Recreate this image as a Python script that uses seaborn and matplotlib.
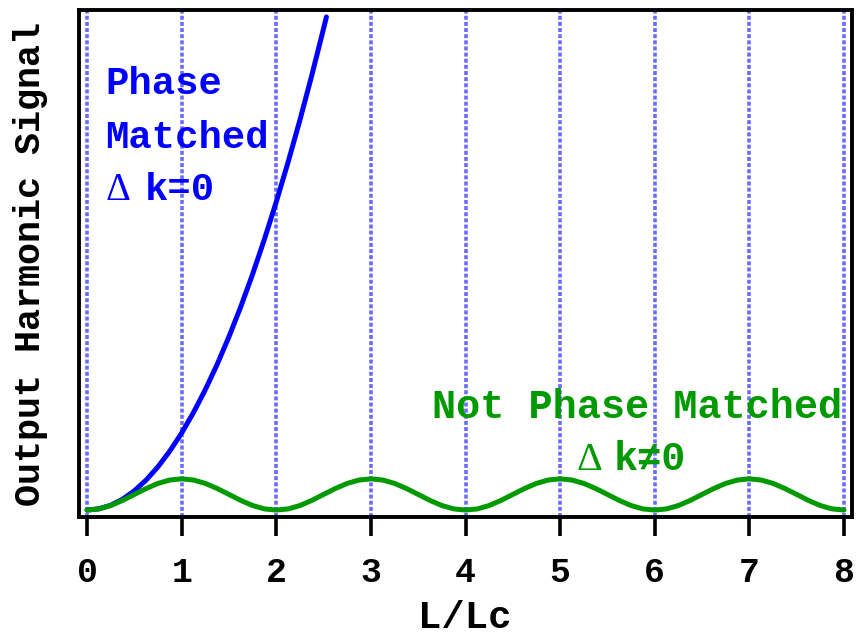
import numpy as np
import pandas as pd
import matplotlib
matplotlib.use("Agg")
import matplotlib.pyplot as plt
import seaborn as sns

# Normalised crystal length L/Lc and the harmonic output for both cases
length_ticks = [0, 1, 2, 3, 4, 5, 6, 7, 8]

matched_x = [0, 0.125, 0.25, 0.375, 0.5, 0.625, 0.75, 0.875, 1.0,
             1.125, 1.25, 1.375, 1.5, 1.625, 1.75, 1.875, 2.0,
             2.125, 2.25, 2.375, 2.5, 2.53]
matched_y = [0, 0.016, 0.0625, 0.14, 0.25, 0.39, 0.5625, 0.766, 1.0,
             1.266, 1.5625, 1.89, 2.25, 2.64, 3.0625, 3.516, 4.0,
             4.516, 5.0625, 5.64, 6.25, 6.40]

mismatched_x = list(np.linspace(0, 8, 65))
mismatched_y = [
    0, 0.015, 0.059, 0.125, 0.203, 0.280, 0.346, 0.390,
    0.405, 0.390, 0.346, 0.280, 0.203, 0.125, 0.059, 0.015,
    0, 0.015, 0.059, 0.125, 0.203, 0.280, 0.346, 0.390,
    0.405, 0.390, 0.346, 0.280, 0.203, 0.125, 0.059, 0.015,
    0, 0.015, 0.059, 0.125, 0.203, 0.280, 0.346, 0.390,
    0.405, 0.390, 0.346, 0.280, 0.203, 0.125, 0.059, 0.015,
    0, 0.015, 0.059, 0.125, 0.203, 0.280, 0.346, 0.390,
    0.405, 0.390, 0.346, 0.280, 0.203, 0.125, 0.059, 0.015,
    0,
]

BLUE = "#0000ff"
GREEN = "#009900"
GRID = "#6b6bff"
MONO = "Liberation Mono"

sns.set_theme(style="white")
plt.rcParams["font.family"] = [MONO, "DejaVu Sans"]

fig = plt.figure(figsize=(8.63, 6.42), dpi=100)
ax = fig.add_axes([0.091, 0.1947, 0.8957, 0.7897])

# vertical dotted guides at every integer length
for t in length_ticks:
    ax.axvline(t, color=GRID, lw=2.6, ls=(0, (1.1, 0.6)), zorder=1)

matched = pd.DataFrame({"L": matched_x, "signal": matched_y})
mismatched = pd.DataFrame({"L": mismatched_x, "signal": mismatched_y})
sns.lineplot(data=matched, x="L", y="signal", ax=ax, color=BLUE, lw=3.6,
             sort=False, zorder=3)
sns.lineplot(data=mismatched, x="L", y="signal", ax=ax, color=GREEN, lw=3.6,
             sort=False, zorder=4)

ax.set_xlim(-0.09, 8.08)
ax.set_ylim(-0.09, 6.49)
ax.set_xticks(length_ticks)
ax.set_xticklabels([str(t) for t in length_ticks])
ax.set_yticks([])

for side in ["left", "right", "top", "bottom"]:
    ax.spines[side].set_visible(True)
    ax.spines[side].set_color("black")
    ax.spines[side].set_linewidth(2.8)

ax.tick_params(axis="x", direction="out", length=14, width=2.6, pad=14,
               labelsize=25, colors="black", bottom=True)
for lab in ax.get_xticklabels():
    lab.set_fontweight("bold")
    lab.set_family(MONO)

ax.set_xlabel("L/Lc", fontsize=28, fontweight="bold", family=MONO,
              labelpad=8, color="black")
ax.set_ylabel("Output Harmonic Signal", fontsize=26.5, fontweight="bold",
              family=MONO, labelpad=22, color="black")

# annotations
txt = dict(fontweight="bold", family=MONO, zorder=2)
ax.text(0.19, 5.40, "Phase", color=BLUE, fontsize=28, **txt)
ax.text(0.19, 4.70, "Matched", color=BLUE, fontsize=28, **txt)
ax.text(0.19, 4.03, "\u0394", color=BLUE, fontsize=28,
        family="Liberation Serif", zorder=2)
ax.text(0.61, 4.03, "k=0", color=BLUE, fontsize=28, **txt)

ax.text(3.65, 1.19, "Not Phase Matched", color=GREEN, fontsize=29, **txt)
ax.text(5.17, 0.52, "\u0394", color=GREEN, fontsize=29,
        family="Liberation Serif", zorder=2)
ax.text(5.57, 0.52, "k\u22600", color=GREEN,
        fontsize=29, fontweight="bold", family=[MONO, "DejaVu Sans Mono"],
        zorder=2)

fig.savefig("out.png", dpi=100)
